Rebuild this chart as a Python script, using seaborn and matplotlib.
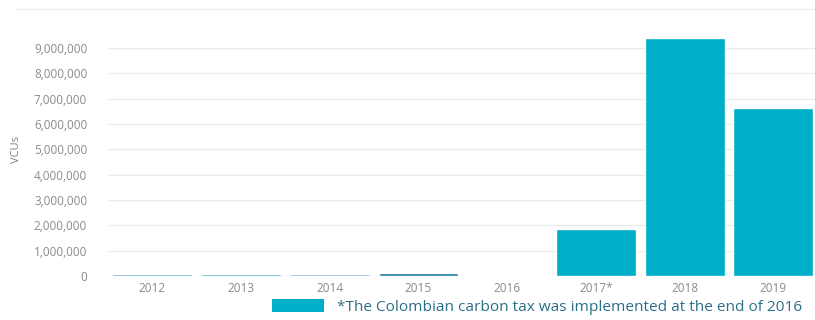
import matplotlib
matplotlib.use("Agg")
import matplotlib.pyplot as plt
import matplotlib.ticker as mticker
from matplotlib.patches import Patch
from matplotlib.lines import Line2D
import seaborn as sns
import pandas as pd

years = ["2012", "2013", "2014", "2015", "2016", "2017*", "2018", "2019"]
vcus = [70000, 80000, 65000, 120000, 15000, 1840000, 9400000, 6620000]
bar_colors = ["#4aa6cf", "#3f9cc6", "#6fb6d6", "#1f78a0", "#e6eef2",
              "#00aec7", "#00aec7", "#00aec7"]
y_ticks = [0, 1000000, 2000000, 3000000, 4000000, 5000000,
           6000000, 7000000, 8000000, 9000000]
note = "*The Colombian carbon tax was implemented at the end of 2016"

sns.set_theme(style="white")
plt.rcParams["font.family"] = ["Open Sans", "DejaVu Sans"]

df = pd.DataFrame({"year": years, "vcus": vcus})

fig = plt.figure(figsize=(8.15, 3.2), dpi=100)
ax = fig.add_axes([108 / 815, 1 - 276 / 320, 1 - 108 / 815, 253.3 / 320])

sns.barplot(data=df, x="year", y="vcus", hue="year",
            palette=dict(zip(years, bar_colors)), legend=False,
            width=0.9, saturation=1, ax=ax, zorder=3)

ax.set_xlim(-0.5, 7.47)
ax.set_ylim(0, 10000000)
ax.set_yticks(y_ticks)
ax.yaxis.set_major_formatter(mticker.FuncFormatter(lambda v, p: f"{int(v):,}"))
ax.grid(axis="y", color="#ebebeb", linewidth=1, zorder=0)
ax.set_axisbelow(True)
for s in ax.spines.values():
    s.set_visible(False)
ax.tick_params(axis="y", length=0, pad=15, labelsize=8.5, labelcolor="#8a8a8a")
ax.tick_params(axis="x", length=0, pad=4, labelsize=8.5, labelcolor="#8a8a8a")
ax.set_xlabel("")
ax.set_ylabel("VCUs", fontsize=8, color="#808080")
ax.yaxis.set_label_coords(-0.121, 0.5)

# thin rule across the top of the figure
fig.add_artist(Line2D([0.02, 1], [1 - 9 / 320, 1 - 9 / 320], color="#eeeeee",
                      linewidth=1, transform=fig.transFigure))

handle = Patch(facecolor="#00aec7", edgecolor="none")
fig.legend([handle], [note], loc="center left",
           bbox_to_anchor=(258 / 815, 1 - 307 / 320), frameon=False,
           handlelength=3.4, handleheight=0.9, handletextpad=0.8,
           prop={"size": 11.1}, labelcolor="#2b6f88")

fig.savefig("out.png", dpi=100)
